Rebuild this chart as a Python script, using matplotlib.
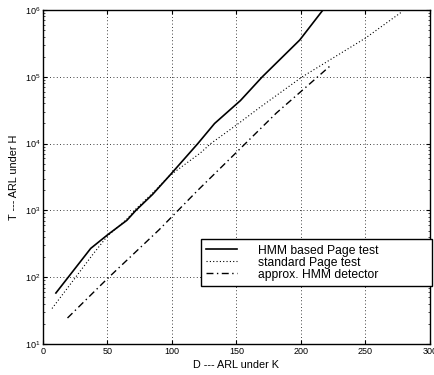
import matplotlib
matplotlib.use('Agg')
import matplotlib.pyplot as plt
from matplotlib.ticker import LogLocator, NullFormatter

plt.rcParams['font.family'] = ['Liberation Sans', 'DejaVu Sans']
plt.rcParams['mathtext.fontset'] = 'custom'
plt.rcParams['mathtext.rm'] = 'Liberation Sans'
plt.rcParams['mathtext.it'] = 'Liberation Sans:italic'
plt.rcParams['mathtext.bf'] = 'Liberation Sans:bold'

# ARL under K (x) vs ARL under H (y)
x_hmm = [10, 37, 50, 65, 72, 85, 98, 120, 133, 153, 170, 199, 217]
y_hmm = [58, 270, 430, 710, 1000, 1740, 3300, 10000, 20000, 44000, 100000, 355000, 1000000]

x_page = [7, 39, 50, 65, 72, 85, 98, 122, 130, 150, 168, 201, 250, 278]
y_page = [34, 224, 415, 740, 1050, 1820, 3300, 7240, 10000, 19000, 34700, 100000, 380000, 933000]

x_approx = [19, 50, 90, 120, 150, 181, 213, 223]
y_approx = [24.5, 95.5, 513, 2000, 7410, 28800, 100000, 148000]

labels = ['HMM based Page test', 'standard Page test', 'approx. HMM detector']

fig = plt.figure(figsize=(4.34, 3.75), dpi=100)
ax = fig.add_axes([43 / 434, 1 - 344 / 375, 387 / 434, 334 / 375])

ax.plot(x_hmm, y_hmm, '-', color='black', lw=1.2, label=labels[0])
ax.plot(x_page, y_page, color='black', lw=0.8, linestyle=(0, (1, 2)), label=labels[1])
ax.plot(x_approx, y_approx, color='black', lw=1.0, linestyle=(0, (5, 2.5, 1, 2.5)), label=labels[2])

ax.set_yscale('log')
ax.set_xlim(0, 300)
ax.set_ylim(10, 1e6)
ax.set_xticks([0, 50, 100, 150, 200, 250, 300])
ax.yaxis.set_major_locator(LogLocator(base=10, numticks=10))
ax.yaxis.set_minor_locator(LogLocator(base=10, subs=range(2, 10), numticks=20))
ax.yaxis.set_minor_formatter(NullFormatter())

ax.grid(True, which='major', color='black', linestyle=(0, (1, 3)), linewidth=0.6)
ax.tick_params(which='both', direction='in', top=True, right=True, labelsize=6.5, pad=2)
ax.tick_params(which='major', length=3, width=0.8)
ax.tick_params(which='minor', length=1.5, width=0.5)
for s in ax.spines.values():
    s.set_linewidth(1.0)

ax.set_xlabel('D --- ARL under K', fontsize=7.8, labelpad=3)
ax.set_ylabel('T --- ARL under H', fontsize=7.8, labelpad=4)

leg = ax.legend(loc='upper left', bbox_to_anchor=(0.408, 0.314, 0.597, 0), mode='expand',
                borderaxespad=0, fontsize=8.7, frameon=True, fancybox=False,
                edgecolor='black', framealpha=1, handlelength=2.5, handletextpad=1.8,
                labelspacing=0, borderpad=0.45)
leg.get_frame().set_linewidth(1.0)
leg.set_clip_on(False)

fig.savefig('out.png', dpi=100)
